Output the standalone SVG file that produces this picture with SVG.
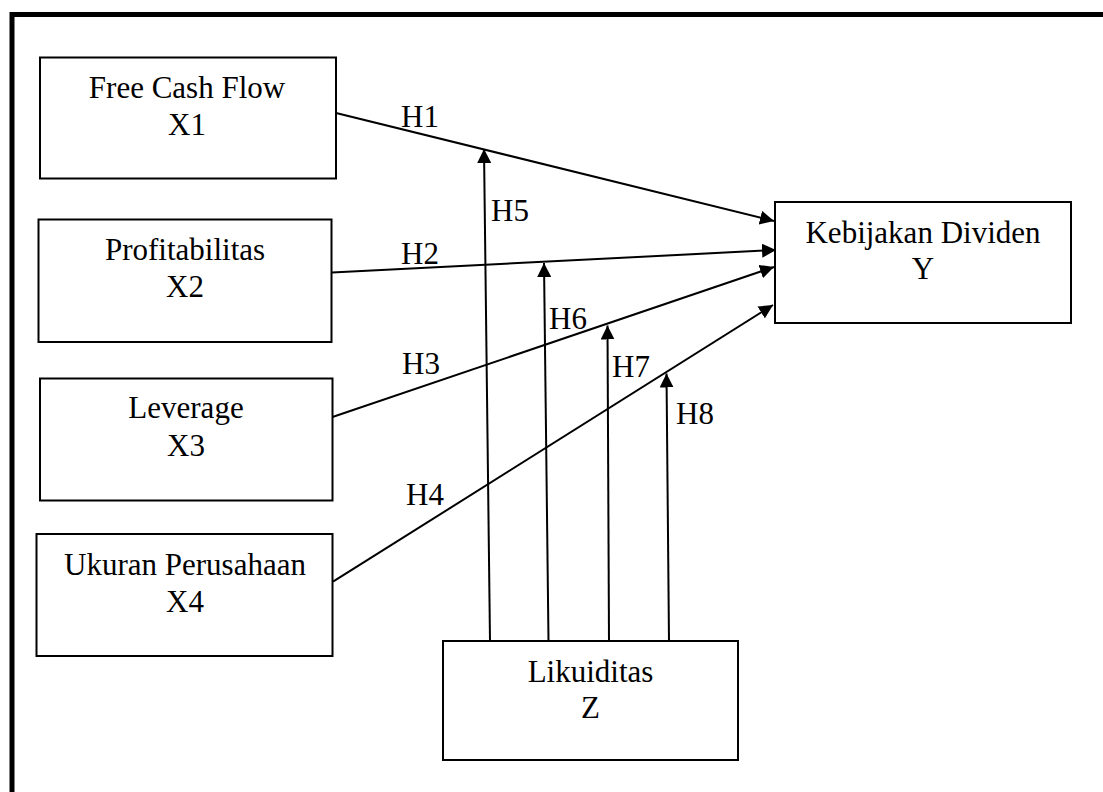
<svg xmlns="http://www.w3.org/2000/svg" width="1103" height="792" viewBox="0 0 1103 792">
<style>
.box{fill:#fff;stroke:#000;stroke-width:2}
.t{font-family:"Liberation Serif","Times New Roman",serif;font-size:31px;fill:#000}
.c{text-anchor:middle}
.ln{stroke:#000;stroke-width:2;fill:none}
</style>
<defs>
<marker id="ah" viewBox="0 0 14 14" refX="14" refY="7" markerWidth="14" markerHeight="14" markerUnits="userSpaceOnUse" orient="auto">
<path d="M0,0 L14,7 L0,14 Z" fill="#000"/>
</marker>
</defs>
<rect width="1103" height="792" fill="#fff"/>
<path d="M12,792 L12,14.5 L1103,14.5" fill="none" stroke="#000" stroke-width="5"/>

<g id="connectors">
<line class="ln" x1="332" y1="112" x2="774" y2="221" marker-end="url(#ah)"/>
<line class="ln" x1="332" y1="272.5" x2="776" y2="250" marker-end="url(#ah)"/>
<line class="ln" x1="331" y1="417.5" x2="774" y2="267" marker-end="url(#ah)"/>
<line class="ln" x1="333" y1="581.7" x2="773" y2="305" marker-end="url(#ah)"/>
<line class="ln" x1="490" y1="641" x2="484" y2="149" marker-end="url(#ah)"/>
<line class="ln" x1="548.5" y1="641" x2="544" y2="263" marker-end="url(#ah)"/>
<line class="ln" x1="609" y1="641" x2="607.5" y2="325.5" marker-end="url(#ah)"/>
<line class="ln" x1="669" y1="641" x2="666.5" y2="373.5" marker-end="url(#ah)"/>
<text class="t" x="401" y="127">H1</text>
<text class="t" x="401" y="264">H2</text>
<text class="t" x="402" y="374">H3</text>
<text class="t" x="406" y="505">H4</text>
<text class="t" x="491" y="221">H5</text>
<text class="t" x="549" y="329">H6</text>
<text class="t" x="612" y="376.5">H7</text>
<text class="t" x="676" y="424">H8</text>
</g>

<g id="x1">
<rect class="box" x="40" y="57.5" width="296" height="121"/>
<text class="t c" x="187" y="97.5">Free Cash Flow</text>
<text class="t c" x="187" y="135">X1</text>
</g>
<g id="x2">
<rect class="box" x="38.5" y="219.5" width="293" height="122.5"/>
<text class="t c" x="185" y="260">Profitabilitas</text>
<text class="t c" x="185" y="297">X2</text>
</g>
<g id="x3">
<rect class="box" x="40" y="378.5" width="292.5" height="122"/>
<text class="t c" x="186" y="418">Leverage</text>
<text class="t c" x="186" y="456">X3</text>
</g>
<g id="x4">
<rect class="box" x="36.5" y="534" width="296" height="122"/>
<text class="t c" x="185" y="575">Ukuran Perusahaan</text>
<text class="t c" x="185" y="611.5">X4</text>
</g>
<g id="y">
<rect class="box" x="775" y="202" width="296" height="121"/>
<text class="t c" x="923" y="242.5">Kebijakan Dividen</text>
<text class="t c" x="923" y="279">Y</text>
</g>
<g id="z">
<rect class="box" x="443" y="641" width="295" height="119"/>
<text class="t c" x="590.5" y="681.5">Likuiditas</text>
<text class="t c" x="590.5" y="718">Z</text>
</g>
</svg>
